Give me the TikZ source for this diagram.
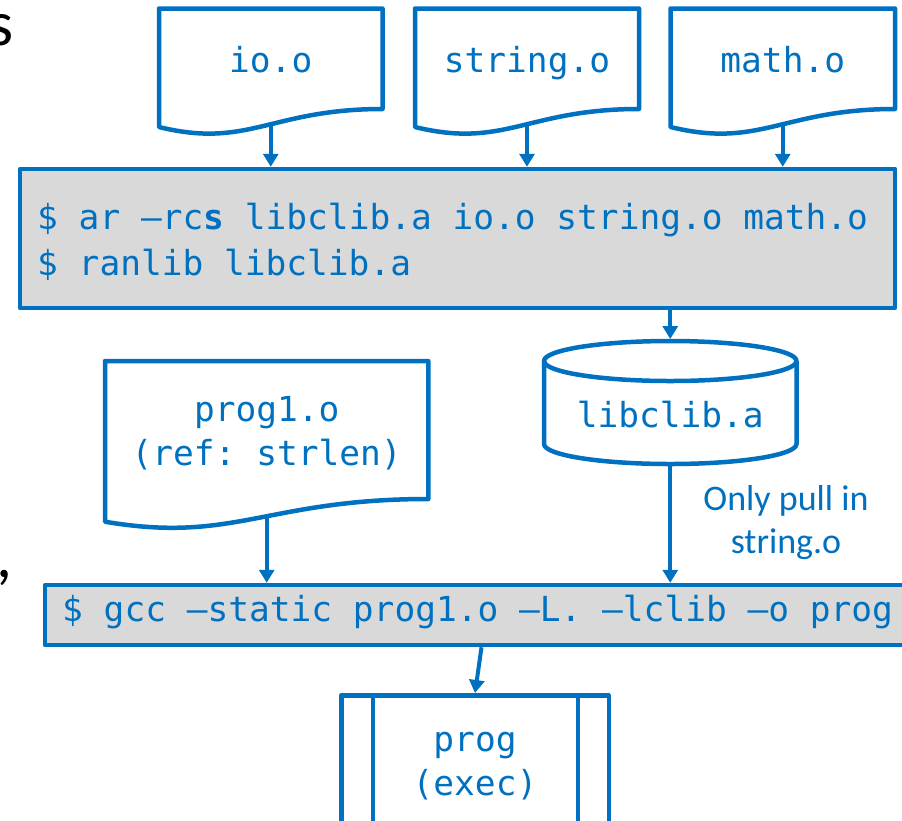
\documentclass[tikz,border=0pt]{standalone}
\usepackage{fontspec}
\newfontfamily\codefont{DejaVu Sans Mono}
\newfontfamily\labelfont{Carlito}
\usetikzlibrary{arrows.meta,calc}
\definecolor{pblue}{HTML}{0070C0}
\definecolor{pgray}{HTML}{D9D9D9}
\pgfdeclarelayer{bg}
\pgfdeclarelayer{shapes}
\pgfsetlayers{bg,shapes,main}
\newcommand{\docshape}[5]{%
  \path[outline, fill=white] (#1,#3) -- (#2,#3) -- (#2,#4)
    .. controls ({#1+0.5*(#2-#1)},#4) and ({#1+0.4*(#2-#1)},{#5+22}) .. (#1,#5) -- cycle;}
\begin{document}
\begin{tikzpicture}[x=1pt,y=-1pt,
  outline/.style={draw=pblue, line width=4.5pt, line join=round},
  code/.style={font=\codefont\fontsize{34.5}{44}\selectfont\frenchspacing, text=pblue, inner sep=0pt, align=center},
  cmdline/.style={font=\codefont\fontsize{34.5}{44}\selectfont\frenchspacing, text=pblue, inner sep=0pt, anchor=base west},
  cmdbox/.style={outline, fill=pgray, inner sep=0pt},
  arr/.style={draw=pblue, line width=4pt, -{Triangle[length=13pt,width=15pt]}},
  note/.style={font=\labelfont\fontsize{36}{43.5}\selectfont, text=pblue, align=center, inner sep=0pt},
  stray/.style={font=\labelfont\fontsize{64}{70}\selectfont, text=black, inner sep=0pt, anchor=base west},
  hold/.style={inner sep=0pt, outer sep=0pt}
]
\useasboundingbox (0,0) rectangle (902,820);
\clip (0,0) rectangle (902,820);

% fragments of slide text cut by the frame
\node[stray] (frag1) at (-12,45) {s};
\node[stray] (frag2) at (-4,577) {,};

% object files
\node[code, anchor=base] (io) at (270.75,72) {io.o};
\node[code, anchor=base] (str) at (527,72) {string.o};
\node[code, anchor=base] (math) at (782.75,72) {math.o};
\node[code] (p1) at (266.7,433) {prog1.o\\(ref: strlen)};
\begin{pgfonlayer}{shapes}
  \docshape{159}{382.5}{8.5}{109}{127}
  \docshape{415}{639}{8.5}{109}{127}
  \docshape{670.5}{895}{8.5}{109}{127}
  \docshape{105}{428.3}{361}{499}{521.7}
\end{pgfonlayer}

% archive command box
\node[cmdbox, minimum width=875pt, minimum height=139pt] (ar) at (457.5,238.5) {};
\node[cmdline] (ar1) at (37,229) {\$ ar –rc\textbf{s} libclib.a io.o string.o math.o};
\node[cmdline] (ar2) at (37,275) {\$ ranlib libclib.a};

% library cylinder
\node[hold, minimum width=256pt, minimum height=127pt] (libc) at (670.25,402.5) {};
\draw[outline] (544,361) -- (544,444) arc[start angle=180, end angle=360, x radius=126.25pt, y radius=20pt] -- (796.5,361);
\draw[outline] (670.25,361) ellipse [x radius=126.25pt, y radius=20pt];
\node[code] (lib) at (670.25,415) {libclib.a};

\node[note] (lbl) at (786,522.5) {Only pull in\\string.o};

% link command box
\node[cmdbox, minimum width=873pt, minimum height=60pt] (gcc) at (481.5,615) {};
\node[cmdline] (gcc1) at (62,621) {\$ gcc –static prog1.o –L. –lclib –o prog};

% executable
\node[outline, minimum width=267.5pt, minimum height=160pt, inner sep=0pt] (prog) at (475,775.25) {};
\draw[outline] ([xshift=34pt]prog.north west) -- ([xshift=34pt]prog.south west);
\draw[outline] ([xshift=-33pt]prog.north east) -- ([xshift=-33pt]prog.south east);
\node[code] (progt) at (475,766) {prog\\(exec)};

% connectors
\begin{pgfonlayer}{bg}
  \draw[arr] (io.center) -- (io.center |- ar.north);
  \draw[arr] (str.center) -- (str.center |- ar.north);
  \draw[arr] (math.center) -- (math.center |- ar.north);
  \draw[arr] (p1.center) -- (p1.center |- gcc.north);
\end{pgfonlayer}
\draw[arr] (ar.south -| libc.north) -- (libc.north);
\draw[arr] (libc.south) -- (libc.south |- gcc.north);
\draw[arr] (gcc.south) -- (prog.north);
\end{tikzpicture}
\end{document}
